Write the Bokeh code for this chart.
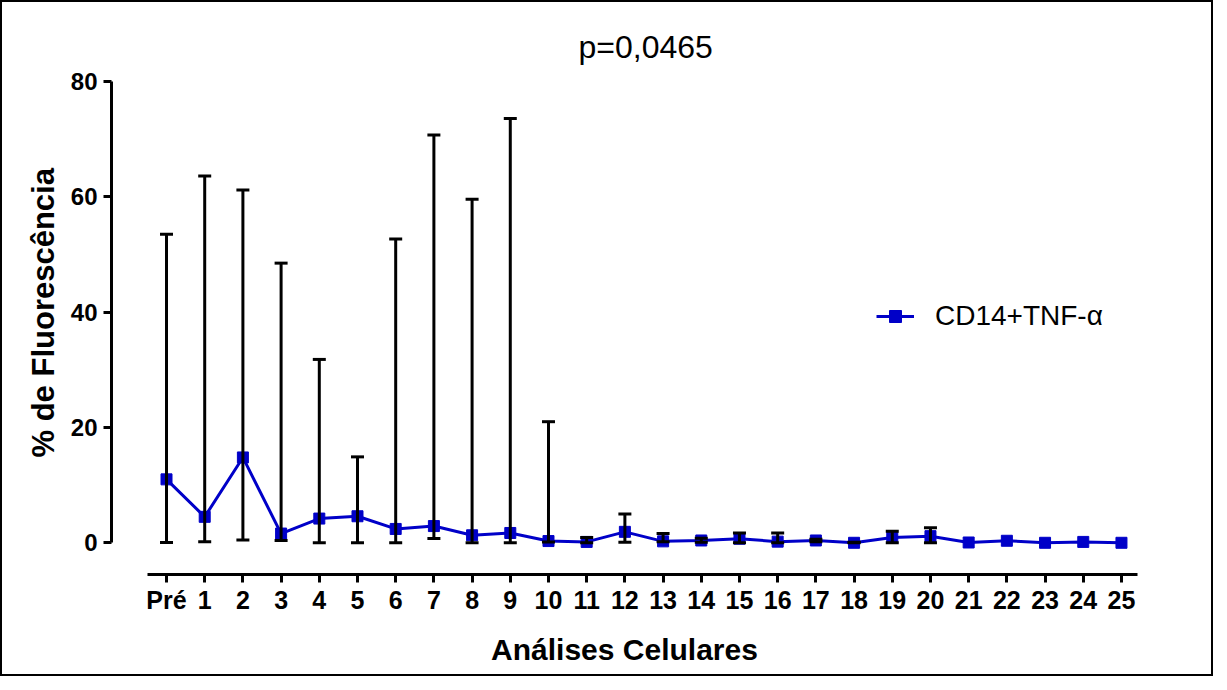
from bokeh.plotting import figure
from bokeh.models import (Range1d, FixedTicker, Whisker, TeeHead, ColumnDataSource,
                          Title, Legend, LegendItem)
from bokeh.embed import file_html
from bokeh.resources import INLINE

# ---- data ----
categories = ["Pré"] + [str(i) for i in range(1, 26)]
mean = [11.0, 4.5, 14.8, 1.6, 4.2, 4.6, 2.4, 2.9, 1.3, 1.7, 0.3, 0.15, 1.9,
        0.25, 0.4, 0.7, 0.2, 0.4, 0.0, 0.9, 1.15, 0.05, 0.35, 0.0, 0.15, 0.0]
upper = [53.5, 63.6, 61.2, 48.5, 31.8, 14.9, 52.7, 70.7, 59.6, 73.6, 21.0, 0.9, 5.0,
         1.6, 0.8, 1.7, 1.7, 0.6, 0.1, 2.0, 2.6, 0.05, 0.35, 0.0, 0.15, 0.0]
lower = [0.05, 0.2, 0.5, 0.4, 0.0, 0.0, 0.0, 0.75, 0.0, 0.0, 0.15, 0.0, 0.1,
         0.2, 0.1, 0.0, 0.0, 0.2, 0.0, 0.0, 0.0, 0.05, 0.35, 0.0, 0.15, 0.0]
series_name = "CD14+TNF-α"
title_text = "p=0,0465"
x_title = "Análises Celulares"
y_title = "% de Fluorescência"
y_ticks = [0, 20, 40, 60, 80]

xs = list(range(len(categories)))
FONT = "Liberation Sans"
BLUE = "#0000C8"

p = figure(width=1213, height=676, output_backend="svg", toolbar_location=None,
           x_range=Range1d(-1.44, 25.42), y_range=Range1d(-5.5, 80.0),
           min_border_left=109, min_border_right=78, min_border_top=79,
           min_border_bottom=104)
p.styles = {"border": "2px solid black"}
p.outline_line_color = None
p.xgrid.visible = False
p.ygrid.visible = False
p.background_fill_color = "white"
p.border_fill_color = "white"

src = ColumnDataSource(dict(x=xs, mean=mean, upper=upper, lower=lower))
ln = p.line("x", "mean", source=src, line_color=BLUE, line_width=3)
sc = p.scatter("x", "mean", source=src, marker="square", size=11,
               fill_color=BLUE, line_color=BLUE)

idx = [i for i in xs if upper[i] > lower[i]]
wsrc = ColumnDataSource(dict(x=[xs[i] for i in idx], upper=[upper[i] for i in idx],
                             lower=[lower[i] for i in idx]))
w = Whisker(base="x", upper="upper", lower="lower", source=wsrc,
            line_color="black", line_width=3, level="overlay",
            upper_head=TeeHead(size=13, line_width=3, line_color="black"),
            lower_head=TeeHead(size=13, line_width=3, line_color="black"))
p.add_layout(w)

# axes
xa = p.xaxis[0]
xa.ticker = FixedTicker(ticks=xs)
xa.major_label_overrides = {i: c for i, c in zip(xs, categories)}
xa.bounds = (-0.5, 25.42)
ya = p.yaxis[0]
ya.ticker = FixedTicker(ticks=y_ticks)
ya.bounds = (0, 80)
for ax in (xa, ya):
    ax.axis_line_width = 3
    ax.major_tick_line_width = 3
    ax.major_tick_out = 8
    ax.major_tick_in = 0
    ax.minor_tick_line_color = None
    ax.major_label_text_font = FONT
    ax.major_label_text_font_style = "bold"
    ax.major_label_text_color = "black"
    ax.axis_label_text_font = FONT
    ax.axis_label_text_font_style = "bold"
    ax.axis_label_text_font_size = "30px"
    ax.axis_label_text_color = "black"
xa.major_label_text_font_size = "25px"
ya.major_label_text_font_size = "24px"
xa.major_label_standoff = 3
ya.major_label_standoff = 6
xa.axis_label = x_title
xa.axis_label_standoff = 16

# y-axis title as a left-side Title, aligned from the bottom with a pixel offset
p.add_layout(Title(text=y_title, align="left", offset=117, standoff=13,
                   text_font=FONT, text_font_style="bold", text_font_size="31px",
                   text_color="black"), "left")

p.add_layout(Title(text=title_text, align="left", offset=467, standoff=33,
                   text_font=FONT, text_font_style="normal", text_font_size="32px",
                   text_color="black"), "above")

legend = Legend(items=[LegendItem(label=series_name, renderers=[ln, sc])],
                location=(765, 242), padding=0, margin=0, spacing=0,
                glyph_width=38, glyph_height=30, label_height=30,
                label_standoff=21, border_line_color=None,
                background_fill_alpha=0, label_text_font=FONT,
                label_text_font_size="28px", label_text_color="black")
p.add_layout(legend)

open("out.html", "w").write(file_html(p, INLINE))
